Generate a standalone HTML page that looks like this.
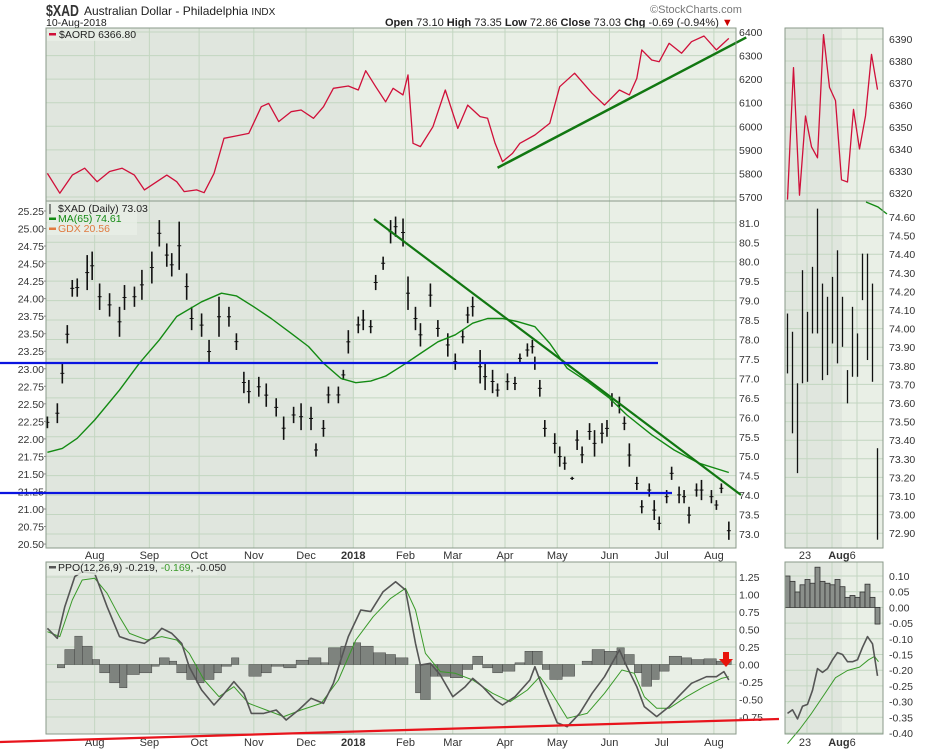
<!DOCTYPE html>
<html><head><meta charset="utf-8">
<style>
html,body{margin:0;padding:0;background:#fff;}
svg{display:block;font-family:"Liberation Sans",sans-serif;}
</style></head>
<body>
<svg id="chart" width="930" height="750" viewBox="0 0 930 750" xmlns="http://www.w3.org/2000/svg">
<text x="46" y="16" font-size="16" font-weight="bold" fill="#333" textLength="33" lengthAdjust="spacingAndGlyphs">$XAD</text>
<text x="84" y="15" font-size="12" fill="#222">Australian Dollar - Philadelphia <tspan font-size="10">INDX</tspan></text>
<text x="46" y="26" font-size="10.5" fill="#222">10-Aug-2018</text>
<text x="650" y="13" font-size="11" fill="#777">©StockCharts.com</text>
<text x="385" y="26" font-size="11" fill="#222"><tspan font-weight="bold">Open</tspan> 73.10 <tspan font-weight="bold">High</tspan> 73.35 <tspan font-weight="bold">Low</tspan> 72.86 <tspan font-weight="bold">Close</tspan> 73.03 <tspan font-weight="bold">Chg</tspan> -0.69 (-0.94%) <tspan fill="#c00">▼</tspan></text>
<g id="layers"></g>
</svg>
<script>
// ---- data ----
const monthLabels=["Aug","Sep","Oct","Nov","Dec","2018","Feb","Mar","Apr","May","Jun","Jul","Aug"];
const monthDays=[19,41,61,83,104,123,144,163,184,205,226,247,268];
const aordDays=[0,5,10,15,20,25,30,35,39,48,52,55,60,63,67,71,76,81,86,89,93,98,102,107,111,115,121,125,128,132,136,139,143,145,147,150,155,160,165,169,174,177,180,183,187,190,196,202,206,212,219,224,230,234,237,239,243,246,250,255,259,264,269,274];
const aordVals=[5800,5716,5793,5822,5765,5808,5822,5793,5730,5793,5765,5723,5730,5718,5800,5949,5959,5970,6083,6097,6020,6062,6069,6034,6083,6161,6171,6154,6236,6168,6104,6161,6133,6218,5928,5914,5998,6154,5991,6090,6041,6034,5928,5850,5885,5928,5963,6013,6168,6225,6140,6090,6154,6133,6203,6324,6281,6274,6352,6310,6359,6383,6324,6373];
const aordTicks=[6400,6300,6200,6100,6000,5900,5800,5700];
const xadDays=[0,4,6,8,10,12,16,18,21,25,29,31,35,38,42,45,48,50,53,56,58,62,65,69,73,76,79,81,85,88,92,95,99,102,106,108,111,113,117,119,121,125,127,130,132,135,138,140,143,145,148,150,154,157,161,164,167,169,171,174,176,179,181,185,188,190,193,195,196,198,200,204,206,208,211,213,215,218,220,223,225,227,230,232,234,237,239,242,244,246,249,251,254,256,258,261,263,267,269,271,274];
const xadHigh=[76.02,76.36,77.39,78.37,79.53,79.57,80.17,80.26,79.44,79.19,78.84,79.40,79.36,79.79,80.26,81.07,80.47,80.22,81.03,79.70,78.84,78.67,77.99,79.10,78.84,78.16,77.17,76.96,77.04,76.87,76.49,76.02,76.27,76.36,76.27,75.33,75.93,76.79,76.79,77.22,78.24,78.59,78.76,78.50,79.66,80.13,81.07,81.16,81.11,79.62,78.84,78.42,79.44,78.50,78.16,77.64,78.24,78.84,79.10,77.73,77.39,77.22,76.87,77.13,77.04,77.64,77.90,77.99,77.56,76.96,75.93,75.59,75.25,74.99,74.47,75.67,75.25,75.85,75.67,75.85,75.93,76.62,76.53,76.02,75.33,74.47,73.87,74.30,73.87,73.45,74.13,74.73,74.22,74.13,73.70,74.30,74.39,74.13,73.87,74.30,73.32];
const xadLow=[75.72,75.85,76.87,77.90,79.10,79.10,79.27,79.53,78.76,78.59,78.07,78.76,78.84,79.02,79.44,80.39,79.87,79.62,79.79,79.02,78.24,78.07,77.39,78.07,78.33,77.73,76.62,76.36,76.53,76.27,76.02,75.42,75.85,75.67,75.67,74.99,75.50,76.36,76.36,76.96,77.64,78.16,78.24,78.16,79.27,79.79,80.47,80.64,80.39,78.76,78.24,77.82,78.84,78.07,77.56,77.22,77.90,78.42,78.59,76.87,76.70,76.62,76.53,76.70,76.70,77.39,77.56,77.64,77.22,76.53,75.50,75.07,74.73,74.65,74.39,75.16,74.82,75.42,74.99,75.33,75.50,76.27,76.10,75.67,74.73,74.13,73.53,73.96,73.36,73.10,73.79,74.39,73.79,73.79,73.27,73.96,73.87,73.79,73.62,74.05,72.85];
const maDays=[0,6,12,19,29,37,45,52,62,70,76,83,90,98,105,111,118,124,130,136,143,150,157,164,171,177,183,189,196,202,209,217,226,233,243,252,262,274];
const maVals=[75.10,75.20,75.46,75.93,76.70,77.39,77.99,78.59,78.97,79.19,79.12,78.84,78.54,78.16,77.82,77.39,77.00,76.89,76.93,77.06,77.34,77.64,77.94,78.12,78.42,78.54,78.54,78.46,78.33,77.90,77.26,76.92,76.49,76.06,75.55,75.16,74.82,74.58];
const xadTicks=[81.0,80.5,80.0,79.5,79.0,78.5,78.0,77.5,77.0,76.5,76.0,75.5,75.0,74.5,74.0,73.5,73.0];
const gdxTicks=["25.25","25.00","24.75","24.50","24.25","24.00","23.75","23.50","23.25","23.00","22.75","22.50","22.25","22.00","21.75","21.50","21.25","21.00","20.75","20.50"];
const ppoDays=[0,4,7,11,14,19,24,29,33,39,43,46,50,54,57,62,67,70,75,79,82,87,92,96,101,106,111,115,121,126,130,135,140,144,148,150,154,158,163,168,171,175,180,183,188,194,196,200,205,209,214,219,224,230,233,237,240,245,250,255,259,265,269,272,274];
const ppoVals=[0.517,0.374,0.826,1.255,1.326,1.302,0.826,0.398,0.35,0.302,0.398,0.517,0.445,0.302,-0.031,-0.364,-0.579,-0.46,-0.245,-0.412,-0.698,-0.698,-0.65,-0.793,-0.65,-0.483,-0.555,-0.269,0.398,0.779,0.755,1.04,1.183,1.064,0.302,-0.007,0.017,-0.15,-0.46,-0.317,-0.198,-0.317,-0.507,-0.579,-0.46,-0.221,-0.031,-0.412,-0.831,-0.888,-0.698,-0.412,-0.174,0.207,-0.031,-0.317,-0.602,-0.745,-0.602,-0.412,-0.269,-0.174,-0.174,-0.102,-0.221];
const sigDays=[0,5,10,14,19,24,29,33,40,46,52,57,63,69,75,81,88,95,102,110,117,124,131,138,144,148,152,158,164,171,179,186,193,198,202,209,217,224,231,236,240,245,250,257,264,271,274];
const sigVals=[0.469,0.398,0.921,1.207,1.231,1.017,0.683,0.445,0.35,0.398,0.35,0.16,-0.221,-0.46,-0.317,-0.555,-0.65,-0.745,-0.65,-0.555,-0.221,0.35,0.683,0.945,1.088,0.779,0.16,-0.102,-0.126,-0.221,-0.412,-0.531,-0.364,-0.174,-0.364,-0.769,-0.698,-0.412,-0.079,-0.126,-0.46,-0.626,-0.626,-0.46,-0.317,-0.198,-0.174];
const histDays=[0,4,7,11,14,18,21,25,29,32,37,42,45,49,52,56,60,63,67,70,74,77,81,86,90,95,100,105,110,113,118,123,126,131,136,140,145,148,150,154,157,162,167,171,175,179,183,188,192,195,199,202,207,212,215,219,224,229,232,236,239,243,246,250,255,259,264,269,272,275];
const histVals=[0,-0.048,0.214,0.405,0.262,0.071,-0.119,-0.262,-0.333,-0.143,-0.119,-0.024,0.095,0.048,-0.119,-0.214,-0.262,-0.214,-0.119,-0.024,0.095,0,-0.167,-0.119,-0.024,-0.048,0.062,0.095,0.024,0.238,0.262,0.31,0.262,0.167,0.143,0.095,0,-0.405,-0.5,-0.167,-0.167,-0.19,-0.071,0.119,-0.048,-0.119,-0.095,0.024,0.19,0.19,-0.071,-0.214,-0.167,0,0.048,0.214,0.19,0.238,0.143,-0.119,-0.31,-0.214,-0.095,0.119,0.095,0.071,0.081,0.048,0.048,-0.048];
const ppoTicks=[1.25,1.00,0.75,0.50,0.25,0.00,-0.25,-0.50,-0.75];
// side (zoom) panels
const sideAord=[6317,6377,6319,6355,6341,6336,6392,6368,6362,6326,6325,6358,6340,6355,6383,6367];
const sideAordTicks=[6390,6380,6370,6360,6350,6340,6330,6320];
const sideXadHigh=[74.081,73.983,73.706,74.314,74.09,74.332,74.645,74.242,74.171,74.278,74.421,74.171,73.777,74.117,73.974,74.403,74.403,74.242,73.357];
const sideXadLow=[73.759,73.437,73.223,73.706,73.714,73.974,73.974,73.723,73.75,73.92,73.813,73.902,73.598,73.741,73.741,74.153,73.831,73.714,72.865];
const sideXadTicks=[74.60,74.50,74.40,74.30,74.20,74.10,74.00,73.90,73.80,73.70,73.60,73.50,73.40,73.30,73.20,73.10,73.00,72.90];
const sideHist=[0.10,0.083,0.049,0.072,0.089,0.077,0.128,0.083,0.077,0.072,0.089,0.066,0.032,0.038,0.032,0.049,0.074,0.032,-0.053];
const sidePpo=[-0.3375,-0.326,-0.355,-0.315,-0.309,-0.264,-0.195,-0.207,-0.195,-0.167,-0.144,-0.15,-0.173,-0.173,-0.167,-0.127,-0.093,-0.116,-0.218];
const sideSigIdx=[0,2.4,4.8,7.2,9.6,12,14.4,16.2,17.4,18.2];
const sideSigVals=[-0.434,-0.389,-0.3375,-0.281,-0.224,-0.201,-0.19,-0.167,-0.156,-0.173];
const sidePpoTicks=[0.10,0.05,0.00,-0.05,-0.10,-0.15,-0.20,-0.25,-0.30,-0.35,-0.40];

// ---- scales ----
const NS="http://www.w3.org/2000/svg";
const L=46, R=736, SL=785, SR=883;
const P1={t:28,b:201}, P2={t:201,b:548}, P3={t:562,b:734};
const x=d=>47.4+d*2.487;
const yA=v=>32+(6400-v)*0.2357;
const yX=v=>534-(v-73)*38.9;
const yG=i=>211+i*17.53;
const yP=v=>577-(v-1.25)*70;
const sx=i=>787.5+i*5.0;
const syA=v=>39+(6390-v)*2.2;
const syX=v=>217+(74.6-v)*186;
const syP=v=>576+(0.10-v)*314;
const root=document.getElementById('layers');
function mk(tag,attrs,parent){const e=document.createElementNS(NS,tag);for(const k in attrs)e.setAttribute(k,attrs[k]);(parent||root).appendChild(e);return e;}
function txt(s,xx,yy,size,fill,anchor,parent){const e=mk('text',{x:xx,y:yy,'font-size':size,fill:fill,'text-anchor':anchor||'start'},parent);e.textContent=s;return e;}

function panel(name,x0,x1,y0,y1,darkTo){
  const g=mk('g',{});
  
  
  mk('rect',{x:x0,y:y0,width:x1-x0,height:y1-y0,fill:'#e9efe6'},g);
  mk('rect',{x:x0,y:y0,width:darkTo-x0,height:y1-y0,fill:'#e0e6de'},g);
  return g;
}
function frame(g,x0,x1,y0,y1){mk('rect',{x:x0,y:y0,width:x1-x0,height:y1-y0,fill:'none',stroke:'#8a9a8a','stroke-width':1},g);}
function hgrid(g,ys,x0,x1){ys.forEach(yy=>mk('line',{x1:x0,x2:x1,y1:yy,y2:yy,stroke:'#c3d6c1','stroke-width':1},g));}
function vgrid(g,xs,y0,y1){xs.forEach(xx=>mk('line',{x1:xx,x2:xx,y1:y0,y2:y1,stroke:'#c3d6c1','stroke-width':1},g));}
function poly(g,xs,ys,color,w){let d='';xs.forEach((v,i)=>{d+=(i?'L':'M')+v.toFixed(1)+','+ys[i].toFixed(1);});return mk('path',{d:d,fill:'none',stroke:color,'stroke-width':w,'stroke-linejoin':'round'},g);}
const monthX=monthDays.map(x);
const sideGridX=[807,832,857];

// ---- top panel: AORD ----
const g1=panel('aord-panel',L,R,P1.t,P1.b,354);
hgrid(g1,aordTicks.map(yA),L,R);vgrid(g1,monthX,P1.t,P1.b);
const aordLine=poly(g1,aordDays.map(x),aordVals.map(yA),'#d0103a',1.3);


const tl1=mk('line',{x1:x(181),y1:yA(5824),x2:x(281),y2:yA(6377),stroke:'#117711','stroke-width':2.5},g1);


frame(g1,L,R,P1.t,P1.b);
aordTicks.forEach(v=>{const t=txt(String(v),739,yA(v)+4,10.5,'#333','start',g1);});
mk('rect',{x:L+1,y:P1.t+1,width:84,height:12,fill:'#e9efe6','fill-opacity':0.8},g1);
mk('rect',{x:49,y:33,width:7,height:2.5,fill:'#d0103a'},g1);
const lg1=txt('$AORD 6366.80',59,38,10.5,'#222','start',g1);



// ---- main panel: XAD ----
const g2=panel('xad-panel',L,R,P2.t,P2.b,354);
hgrid(g2,xadTicks.map(yX),L,R);vgrid(g2,monthX,P2.t,P2.b);
xadDays.forEach((d,i)=>{
  const b=mk('line',{x1:x(d),x2:x(d),y1:yX(xadHigh[i]),y2:yX(xadLow[i]),stroke:'#111','stroke-width':1.6},g2);
  
  
  const c=(xadHigh[i]+xadLow[i])/2;
  mk('line',{x1:x(d)-2,x2:x(d)+2,y1:yX(c),y2:yX(c),stroke:'#111','stroke-width':1},g2);
});
const ma=poly(g2,maDays.map(x),maVals.map(yX),'#138a13',1.4);


const tl2=mk('line',{x1:374,y1:219,x2:741,y2:495,stroke:'#117711','stroke-width':2.2},root);


frame(g2,L,R,P2.t,P2.b);
xadTicks.forEach(v=>{const t=txt(v.toFixed(1),739,yX(v)+4,10.5,'#333','start',g2);});
gdxTicks.forEach((s,i)=>{const t=txt(s,44,yG(i)+4,10.5,'#333','end',g2);mk('line',{x1:44,x2:L,y1:yG(i),y2:yG(i),stroke:'#888'},g2);});
mk('rect',{x:L+1,y:P2.t+1,width:90,height:33,fill:'#e9efe6','fill-opacity':0.8},g2);
const lx=txt('$XAD (Daily) 73.03',58,212,10.5,'#222','start',g2);


mk('line',{x1:50,x2:50,y1:204,y2:214,stroke:'#222'},g2);
mk('rect',{x:49,y:217.5,width:7,height:2.5,fill:'#138a13'},g2);
const lm=txt('MA(65) 74.61',58,222,10.5,'#138a13','start',g2);


mk('rect',{x:49,y:227.5,width:7,height:2.5,fill:'#e07a40'},g2);
const lgdx=txt('GDX 20.56',58,232,10.5,'#e07a40','start',g2);


const b1=mk('line',{x1:0,x2:658,y1:363,y2:363,stroke:'#0a14e0','stroke-width':2.3},root);


const b2=mk('line',{x1:0,x2:672,y1:493,y2:493,stroke:'#0a14e0','stroke-width':2.3},root);



// month labels
function monthAxis(yy,name){monthLabels.forEach((m,i)=>{const t=txt(m,monthX[i],yy,11,'#333','middle');if(m==='2018')t.setAttribute('font-weight','bold');});}
monthAxis(559,'x-axis-month-label');
monthAxis(746,'ppo-x-axis-month-label');

// ---- PPO panel ----
const g3=panel('ppo-panel',L,R,P3.t,P3.b,354);
hgrid(g3,ppoTicks.map(yP),L,R);vgrid(g3,monthX,P3.t,P3.b);
histDays.forEach((d,i)=>{
  if(i===histDays.length-1)return;
  const v=histVals[i],x0=x(d),x1=x(histDays[i+1]);
  const r=mk('rect',{x:x0,y:Math.min(yP(0),yP(v)),width:Math.max(0.5,x1-x0),height:Math.abs(yP(v)-yP(0)),fill:'#7e837e',stroke:'#333','stroke-width':0.4},g3);
  
  
});
const sg=poly(g3,sigDays.map(x),sigVals.map(yP),'#3a9a2a',1);


const pp=poly(g3,ppoDays.map(x),ppoVals.map(yP),'#555',1.6);


frame(g3,L,R,P3.t,P3.b);
ppoTicks.forEach(v=>{const t=txt(v.toFixed(2),739,yP(v)+4,10.5,'#333','start',g3);});
mk('rect',{x:L+1,y:P3.t+1,width:170,height:12,fill:'#e9efe6','fill-opacity':0.8},g3);
mk('rect',{x:49,y:566,width:7,height:2.5,fill:'#555'},g3);
const lp=mk('text',{x:58,y:571,'font-size':10.5,fill:'#222'},g3);
lp.innerHTML='PPO(12,26,9) -0.219, <tspan fill="#3a9a2a">-0.169</tspan>, -0.050';


const arrow=mk('path',{d:'M723,652 h6 v7 h4 l-7,8 l-7,-8 h4 z',fill:'#e8140c'},root);


const red=mk('line',{x1:0,y1:742,x2:779,y2:719,stroke:'#e8141c','stroke-width':2.3},root);



// ---- side panels ----
const s1=panel('side-aord-panel',SL,SR,P1.t,P1.b,842);
hgrid(s1,sideAordTicks.map(syA),SL,SR);vgrid(s1,sideGridX,P1.t,P1.b);
const sa=poly(s1,sideAord.map((v,i)=>sx(i*18/15)),sideAord.map(syA),'#d0103a',1.3);


frame(s1,SL,SR,P1.t,P1.b);
sideAordTicks.forEach(v=>{const t=txt(String(v),889,syA(v)+4,10.5,'#333','start',s1);});

const s2=panel('side-xad-panel',SL,SR,P2.t,P2.b,842);
hgrid(s2,sideXadTicks.map(syX),SL,SR);vgrid(s2,sideGridX,P2.t,P2.b);
sideXadHigh.forEach((h,i)=>{
  const b=mk('line',{x1:sx(i),x2:sx(i),y1:syX(h),y2:syX(sideXadLow[i]),stroke:'#111','stroke-width':1.3},s2);
  
  
});
const sma=mk('path',{d:'M866,202 L878,207 L887,214',fill:'none',stroke:'#138a13','stroke-width':1.4},s2);


frame(s2,SL,SR,P2.t,P2.b);
sideXadTicks.forEach(v=>{const t=txt(v.toFixed(2),889,syX(v)+4,10.5,'#333','start',s2);});

const s3=panel('side-ppo-panel',SL,SR,P3.t,P3.b,842);
hgrid(s3,sidePpoTicks.map(syP),SL,SR);vgrid(s3,sideGridX,P3.t,P3.b);
sideHist.forEach((v,i)=>{
  const r=mk('rect',{x:sx(i)-2.5,y:Math.min(syP(0),syP(v)),width:5,height:Math.abs(syP(v)-syP(0)),fill:'#8a8f8a',stroke:'#333','stroke-width':0.8},s3);
  
  
});
const ssg=poly(s3,sideSigIdx.map(sx),sideSigVals.map(syP),'#3a9a2a',1);


const spp=poly(s3,sidePpo.map((v,i)=>sx(i)),sidePpo.map(syP),'#555',1.6);


frame(s3,SL,SR,P3.t,P3.b);
sidePpoTicks.forEach(v=>{const t=txt(v.toFixed(2),889,syP(v)+4,10.5,'#333','start',s3);});
[[559,'side-x-axis-label'],[746,'side-ppo-x-axis-label']].forEach(([yy,n])=>{
  const a=txt('23',805,yy,11,'#333','middle');
  const b=mk('text',{x:842,y:yy,'font-size':11,fill:'#333','text-anchor':'middle'});b.innerHTML='<tspan font-weight="bold">Aug</tspan>6';
});
</script>
</body></html>
